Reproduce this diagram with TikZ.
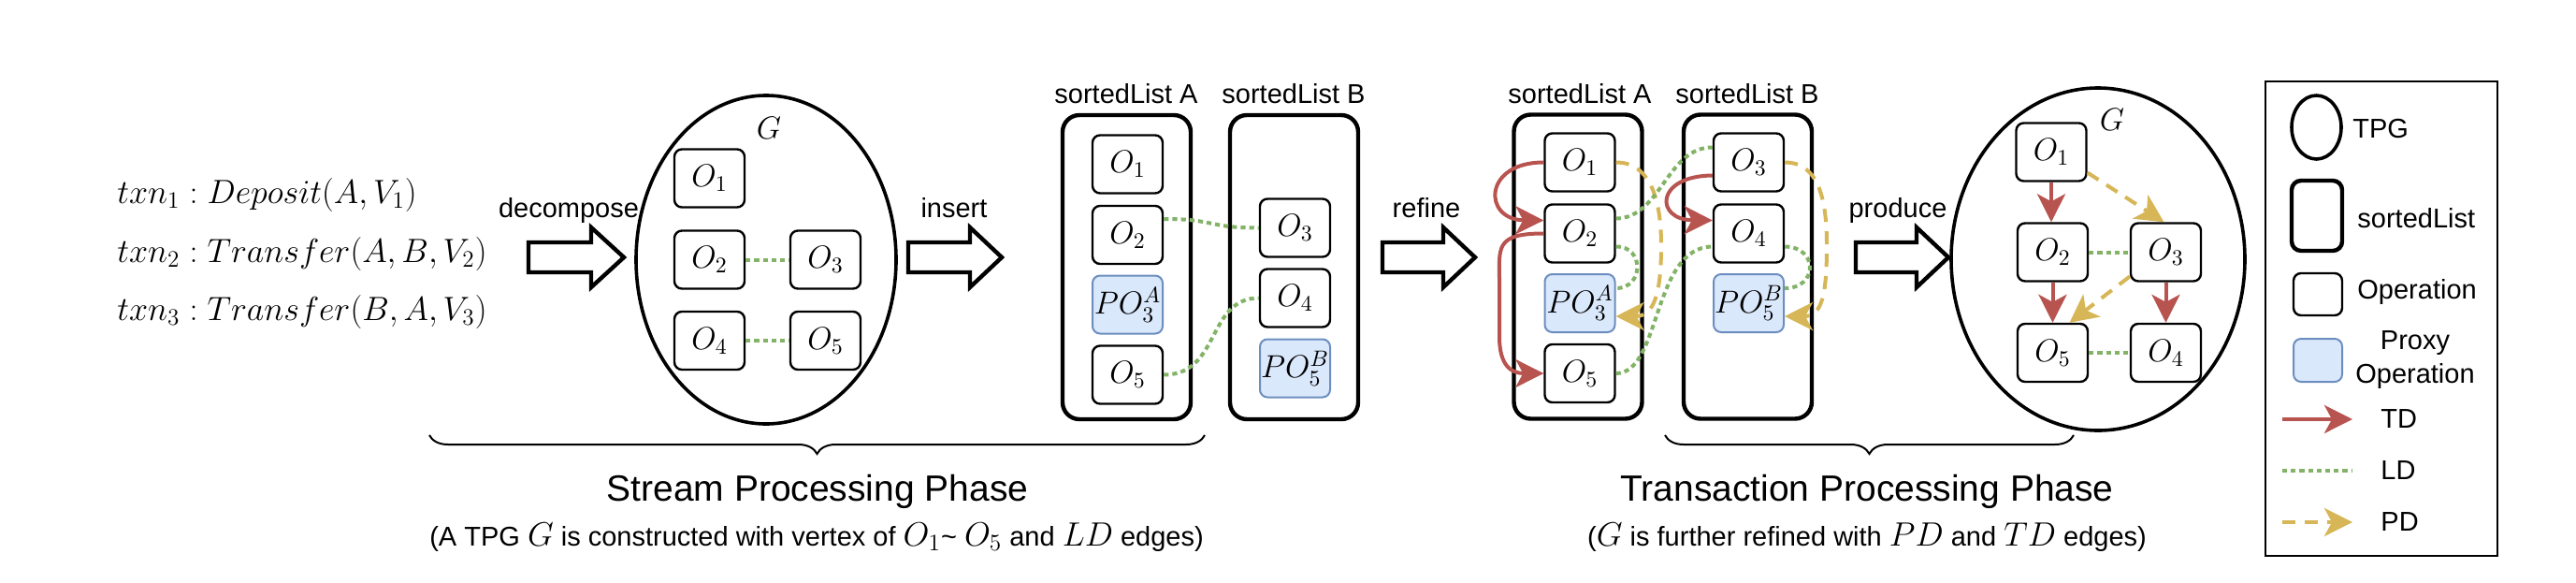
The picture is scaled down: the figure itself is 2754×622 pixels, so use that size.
\RequirePackage{fix-cm}
\documentclass[tikz,border=0pt]{standalone}
\usepackage[no-math]{fontspec}
\setmainfont{Liberation Sans}
\usetikzlibrary{arrows.meta,shapes.geometric,decorations.pathreplacing}
\definecolor{tdred}{HTML}{B85450}
\definecolor{ldgreen}{HTML}{82B366}
\definecolor{pdyellow}{HTML}{D6B656}
\definecolor{pofill}{HTML}{DAE8FC}
\definecolor{podraw}{HTML}{6C8EBF}
\newcommand{\mbig}[1]{{\fontsize{18}{20}\selectfont$#1$}}
\newcommand{\blkarrow}[3]{%
  \draw[blockarr] (#1,-259) -- (#2,-259) -- (#2,-243) -- (#3,-275) -- (#2,-307) -- (#2,-291) -- (#1,-291) -- cycle;}
\begin{document}
\begin{tikzpicture}[x=0.5pt,y=0.5pt,
  op/.style={draw, line width=1.2pt, rounded corners=4pt, minimum width=37.5pt, minimum height=31pt, inner sep=0pt, fill=white, font=\fontsize{17}{20}\selectfont},
  proxy/.style={op, fill=pofill, draw=podraw, line width=1pt},
  slist/.style={draw, line width=2.2pt, rounded corners=9pt, minimum width=68.5pt, minimum height=162.5pt, inner sep=0pt},
  tpg/.style={draw, ellipse, line width=1.8pt, inner sep=0pt},
  lbl/.style={font=\fontsize{14.5}{18}\selectfont, inner sep=0pt},
  td/.style={draw=tdred, line width=2pt, -{Stealth[length=15pt,width=15pt,inset=4pt]}},
  ld/.style={draw=ldgreen, line width=2pt, dash pattern=on 2.6pt off 2pt},
  pd/.style={draw=pdyellow, line width=2pt, dash pattern=on 7pt off 5pt, -{Stealth[length=15pt,width=15pt,inset=4pt]}},
  blockarr/.style={draw, line width=2.2pt, fill=white, miter limit=10},
  brc/.style={decorate, decoration={brace, mirror, amplitude=10pt}, line width=1pt},
  ttl/.style={font=\fontsize{19.5}{23}\selectfont, inner sep=0pt},
  subt/.style={font=\fontsize{14.5}{17}\selectfont, inner sep=0pt},
  mth/.style={font=\fontsize{18}{21}\selectfont, inner sep=0pt},
  glbl/.style={font=\fontsize{17}{20}\selectfont, inner sep=0pt}
]
\path[use as bounding box] (0,0) rectangle (2754,-622);

% transactions
\node[mth, anchor=base west] (tx1) at (125,-217) {$txn_1 : Deposit(A, V_1)$};
\node[mth, anchor=base west] (tx2) at (125,-280) {$txn_2 : Transfer(A, B, V_2)$};
\node[mth, anchor=base west] (tx3) at (125,-342) {$txn_3 : Transfer(B, A, V_3)$};

% block arrows and labels
\blkarrow{565}{632}{667}
\node[lbl, anchor=base] (ldec) at (608,-232) {decompose};
\blkarrow{971}{1037}{1071}
\node[lbl, anchor=base] (lins) at (1020,-232) {insert};
\blkarrow{1478}{1543}{1577}
\node[lbl, anchor=base] (lref) at (1525,-232) {refine};
\blkarrow{1984}{2049}{2083}
\node[lbl, anchor=base] (lpro) at (2029,-232) {produce};

% left TPG
\node[tpg, minimum width=139pt, minimum height=175.5pt] (G1) at (819,-277.5) {};
\node[glbl] (G1l) at (822,-137) {$G$};
\node[op] (L1) at (758.5,-190.5) {$O_1$};
\node[op] (L2) at (758.5,-277.5) {$O_2$};
\node[op] (L4) at (758.5,-364) {$O_4$};
\node[op] (L3) at (882.5,-277.5) {$O_3$};
\node[op] (L5) at (882.5,-364) {$O_5$};
\draw[ld] (L2.east) -- (L3.west);
\draw[ld] (L4.east) -- (L5.west);

% first sorted lists
\node[lbl, anchor=base] (lsa1) at (1204,-110) {sortedList A};
\node[lbl, anchor=base] (lsb1) at (1383,-110) {sortedList B};
\node[slist] (SA1) at (1204.5,-285.5) {};
\node[slist] (SB1) at (1383.5,-285.5) {};
\node[op] (A1o1) at (1205.5,-175.5) {$O_1$};
\node[op] (A1o2) at (1205.5,-251) {$O_2$};
\node[proxy] (A1p3) at (1205.5,-325.5) {$PO_3^A$};
\node[op] (A1o5) at (1205.5,-400.5) {$O_5$};
\node[op] (B1o3) at (1384.5,-243.5) {$O_3$};
\node[op] (B1o4) at (1384.5,-318.5) {$O_4$};
\node[proxy] (B1p5) at (1384.5,-393.5) {$PO_5^B$};
\draw[ld] ([yshift=8.5pt]A1o2.east) .. controls (1300,-234) and (1290,-243.5) .. (B1o3.west);
\draw[ld] (A1o5.east) .. controls (1305,-400.5) and (1290,-318.5) .. (B1o4.west);

% second sorted lists
\node[lbl, anchor=base] (lsa2) at (1689,-110) {sortedList A};
\node[lbl, anchor=base] (lsb2) at (1868,-110) {sortedList B};
\node[slist] (SA2) at (1687,-285) {};
\node[slist] (SB2) at (1868.5,-285) {};
\node[op] (A2o1) at (1689,-173.5) {$O_1$};
\node[op] (A2o2) at (1689,-249.5) {$O_2$};
\node[proxy] (A2p3) at (1689,-324) {$PO_3^A$};
\node[op] (A2o5) at (1689,-399) {$O_5$};
\node[op] (B2o3) at (1869.5,-173.5) {$O_3$};
\node[op] (B2o4) at (1869.5,-249.5) {$O_4$};
\node[proxy] (B2p5) at (1869.5,-324) {$PO_5^B$};

\draw[td] (A2o1.west) .. controls (1585,-173.5) and (1585,-235) .. ([yshift=7pt]A2o2.west);
\draw[td] (A2o2.west) .. controls (1598,-249.5) and (1603,-265) .. (1603,-300) -- (1603,-360) .. controls (1603,-390) and (1615,-399) .. (A2o5.west);
\draw[td] ([yshift=-7pt]B2o3.west) .. controls (1769,-188) and (1769,-235) .. ([yshift=7pt]B2o4.west);

\draw[pd] (A2o1.east) .. controls (1765,-173.5) and (1776,-215) .. (1776,-262) .. controls (1776,-315) and (1768,-338) .. ([yshift=-7pt]A2p3.east);
\draw[pd] (B2o3.east) .. controls (1945,-173.5) and (1953,-215) .. (1953,-262) .. controls (1953,-315) and (1948,-338) .. ([yshift=-7pt]B2p5.east);

\draw[ld] ([yshift=8pt]A2o2.east) .. controls (1776,-233) and (1782,-157) .. ([yshift=8pt]B2o3.west);
\draw[ld] ([yshift=-7pt]A2o2.east) .. controls (1758,-263) and (1758,-308) .. ([yshift=8pt]A2p3.east);
\draw[ld] (A2o5.east) .. controls (1776,-399) and (1766,-264) .. ([yshift=-7pt]B2o4.west);
\draw[ld] ([yshift=-7pt]B2o4.east) .. controls (1944,-264) and (1944,-308) .. ([yshift=8pt]B2p5.east);

% right TPG
\node[tpg, minimum width=157pt, minimum height=183pt] (G2) at (2243,-277) {};
\node[glbl] (G2l) at (2258,-128) {$G$};
\node[op] (R1) at (2193,-162.5) {$O_1$};
\node[op] (R2) at (2194.5,-269.5) {$O_2$};
\node[op] (R3) at (2315.5,-269.5) {$O_3$};
\node[op] (R5) at (2194.5,-377) {$O_5$};
\node[op] (R4) at (2315.5,-377) {$O_4$};
\draw[td] (R1.south) -- (R1.south |- R2.north);
\draw[td] (R2.south) -- (R5.north);
\draw[td] (R3.south) -- (R4.north);
\draw[pd] ([yshift=-11pt]R1.east) -- ([xshift=-1pt]R3.north);
\draw[pd] ([yshift=-13pt]R3.west) -- ([xshift=9pt]R5.north);
\draw[ld] (R2.east) -- (R3.west);
\draw[ld] (R5.east) -- (R4.west);

% braces and titles
\coordinate (b1l) at (459,-465);
\coordinate (b1r) at (1288,-465);
\draw[brc] (b1l) -- (b1r);
\coordinate (b2l) at (1780,-465);
\coordinate (b2r) at (2217,-465);
\draw[brc] (b2l) -- (b2r);
\node[ttl, anchor=base] (ttl1) at (874,-535) {Stream Processing Phase};
\node[subt, anchor=base] (sub1) at (873,-583) {(A TPG \mbig{G} is constructed with vertex of \mbig{O_1}\textasciitilde{} \mbig{O_5} and \mbig{LD} edges)};
\node[ttl, anchor=base] (ttl2) at (1996,-535) {Transaction Processing Phase};
\node[subt, anchor=base] (sub2) at (1996,-583) {(\mbig{G} is further refined with \mbig{PD} and \mbig{TD} edges)};

% legend
\node[draw, line width=1pt, minimum width=124pt, minimum height=253.5pt, inner sep=0pt] (leg) at (2546,-340.5) {};
\node[tpg, minimum width=26.5pt, minimum height=34pt] (kT) at (2476.5,-136) {};
\node[lbl, anchor=west] (kTl) at (2515,-138) {TPG};
\node[slist, minimum width=27pt, minimum height=37.5pt, rounded corners=5pt] (kS) at (2477,-230.5) {};
\node[lbl, anchor=west] (kSl) at (2520,-233) {sortedList};
\node[op, minimum width=26pt, minimum height=22.5pt] (kO) at (2478,-314.5) {};
\node[lbl, anchor=west] (kOl) at (2520,-312) {Operation};
\node[proxy, minimum width=26pt, minimum height=23pt] (kP) at (2478,-385) {};
\node[lbl, align=center] (kPl) at (2582,-385) {Proxy\\Operation};
\coordinate (kTDa) at (2440,-448);
\coordinate (kTDb) at (2515,-448);
\draw[td] (kTDa) -- (kTDb);
\node[lbl, anchor=west] (kTDl) at (2545,-448) {TD};
\coordinate (kLDa) at (2440,-503);
\coordinate (kLDb) at (2515,-503);
\draw[ld] (kLDa) -- (kLDb);
\node[lbl, anchor=west] (kLDl) at (2545,-503) {LD};
\coordinate (kPDa) at (2440,-558);
\coordinate (kPDb) at (2515,-558);
\draw[pd] (kPDa) -- (kPDb);
\node[lbl, anchor=west] (kPDl) at (2545,-558) {PD};
\end{tikzpicture}
\end{document}
